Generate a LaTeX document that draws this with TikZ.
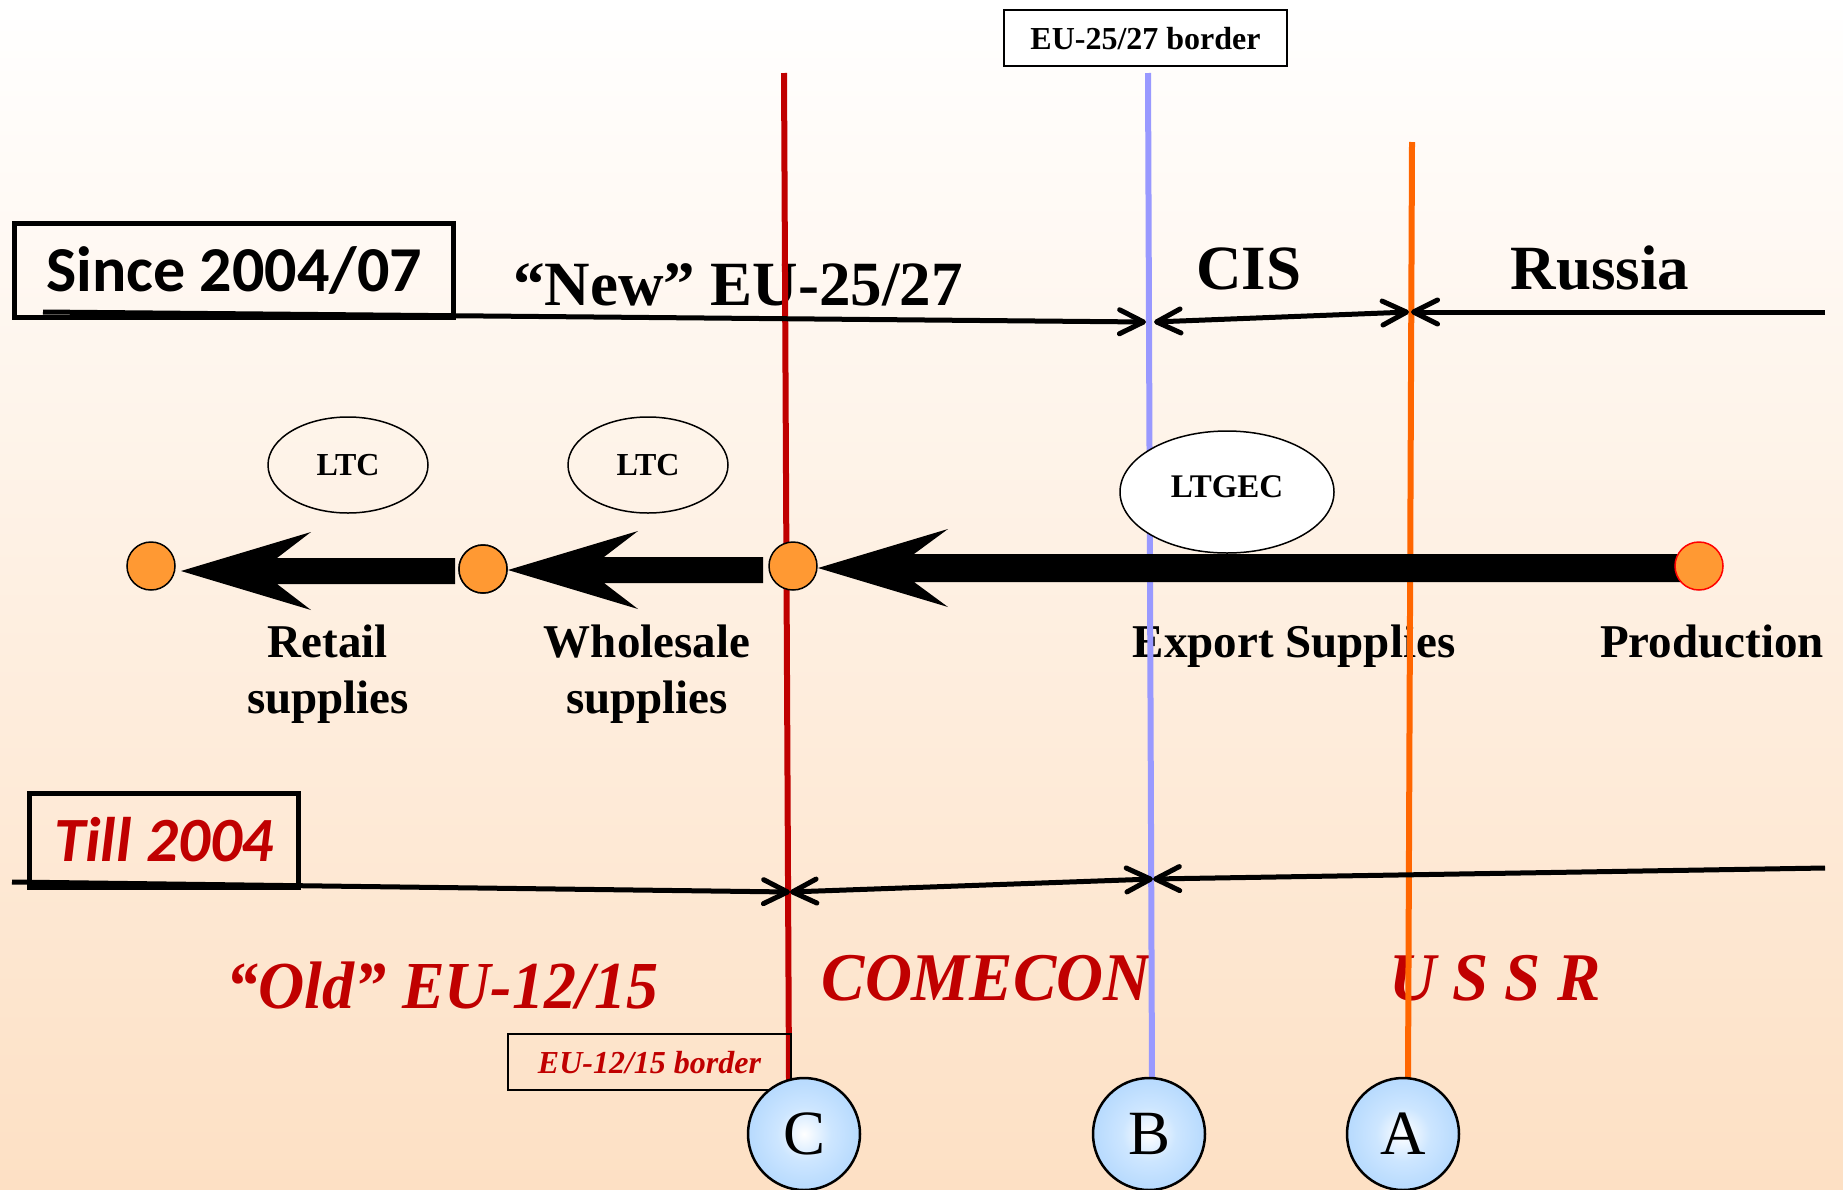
\documentclass[tikz,border=0pt]{standalone}
\usepackage{fontspec}
\setmainfont{Liberation Serif}
\newfontfamily\calfont{Carlito}
\usetikzlibrary{shapes.geometric,arrows.meta,calc}

\definecolor{bgbot}{RGB}{253,224,196}
\definecolor{lineC}{RGB}{192,0,0}
\definecolor{lineB}{RGB}{153,153,255}
\definecolor{lineA}{RGB}{255,102,0}
\definecolor{dotfill}{RGB}{255,153,51}
\definecolor{labelred}{RGB}{192,0,0}
\definecolor{ballblue}{RGB}{140,195,252}
\definecolor{ballmid}{RGB}{205,230,255}
\pgfdeclareradialshading{ballshade}{\pgfpoint{0bp}{0bp}}{color(0bp)=(white); color(12bp)=(ballmid); color(50bp)=(ballblue)}

\newcommand\fs[1]{\fontsize{#1}{#1}\selectfont}
% thick flow arrow: #1 tip, #2 tail (same height), #3 half shaft width
\newcommand\fatarrow[3]{%
  \fill (#1) -- ++(130,-39) -- ++(-34,39-#3) -- ($(#2)+(0,-#3)$)
    -- ($(#2)+(0,#3)$) -- ($(#1)+(96,#3)$) -- ++(34,39-#3) -- cycle;}
\newcommand\tall[1]{\scalebox{1}[1.05]{#1}}

\begin{document}
\begin{tikzpicture}[x=1pt,y=-1pt,
  every node/.style={inner sep=0pt, outer sep=0pt},
  divider/.style={line width=6pt},
  period/.style={line width=5pt},
  tipR/.style={-{Straight Barb[length=24pt,width=24pt,round]}},
  tipLR/.style={{Straight Barb[length=24pt,width=24pt,round]}-{Straight Barb[length=24pt,width=24pt,round]}},
  flowdot/.style={circle, draw, line width=1.5pt, fill=dotfill, minimum size=48pt},
  ltcell/.style={ellipse, draw, line width=1.5pt, font=\bfseries\fs{32}},
  stagelabel/.style={anchor=base, align=center, font=\bfseries\fontsize{47}{56}\selectfont},
  regionlabel/.style={anchor=base, font=\bfseries\fs{63}},
  oldregion/.style={anchor=base, font=\bfseries\itshape\fs{64}, text=labelred},
  periodbox/.style={draw, line width=5pt, text height=41pt, text depth=0pt},
  bordertag/.style={draw, line width=2pt, minimum width=283pt, minimum height=56pt, text height=22pt, text depth=0pt},
  pointmark/.style={circle, draw, line width=2.5pt, minimum size=112pt, shade, shading=ballshade, font=\fs{63}}
]
% background
\useasboundingbox (0,0) rectangle (1843,1189);
\shade[top color=white, bottom color=bgbot] (0,0) rectangle (1843,1189);

% region and stage labels
\node[regionlabel] (neweu) at (738,305) {“New” EU-25/27};
\node[regionlabel] (cis) at (1249,289) {CIS};
\node[regionlabel] (russia) at (1600,289) {Russia};
\node[stagelabel] (retail) at (328,713) {Retail\\supplies};
\node[stagelabel] (wholesale) at (647,713) {Wholesale\\supplies};
\node[stagelabel] (export) at (1294,657) {Export Supplies};
\node[stagelabel] (production) at (1712,657) {Production};
\node[oldregion] (oldeu) at (442,1008) {\tall{“Old” EU-12/15}};
\node[oldregion, font=\bfseries\itshape\fs{65}] (comecon) at (986,1000) {\tall{COMECON}};
\node[oldregion, font=\bfseries\itshape\fs{65}] (ussr) at (1495,1000) {\tall{U S S R}};

% border lines
\coordinate (Ctop) at (784,73);  \coordinate (Cbot) at (789,1080);
\coordinate (Btop) at (1148,73); \coordinate (Bbot) at (1152,1080);
\coordinate (Atop) at (1412,142);\coordinate (Abot) at (1408,1080);
\draw[divider, lineC] (Ctop) -- (Cbot);
\draw[divider, lineB] (Btop) -- (Bbot);
\draw[divider, lineA] (Atop) -- (Abot);

% period boxes
\node[periodbox, minimum width=439pt, minimum height=94pt, font=\calfont\bfseries\fs{64}] (since) at (234,270.5) {Since 2004/07};
\node[periodbox, minimum width=269pt, minimum height=94pt, font=\calfont\bfseries\itshape\fs{63}, text=labelred] (till) at (164,840.5) {Till 2004};

% since 2004/07 spans
\coordinate (n0) at (43,312);   \coordinate (nB) at (1146,322);
\coordinate (cB) at (1154,322); \coordinate (cA) at (1409,312);
\coordinate (rA) at (1411,312); \coordinate (r9) at (1825,312);
\draw[period, tipR] (n0) -- (nB);
\draw[period, tipLR] (cB) -- (cA);
\draw[period, tipR] (r9) -- (rA);

% till 2004 spans
\coordinate (o0) at (12,882);   \coordinate (oC) at (790,892);
\coordinate (oB) at (1153,879); \coordinate (o9) at (1825,868);
\draw[period, tipR] (o0) -- (oC);
\draw[period, tipLR] (oC) -- (oB);
\draw[period, tipR] (o9) -- (oB);

% supply chain
\node[flowdot] (Rdot) at (151,566) {};
\node[flowdot] (Wdot) at (483,569) {};
\coordinate (tip1) at ($(Rdot.east)+(6,5)$);
\coordinate (tail1) at ($(Wdot.west)+(-4,2)$);
\coordinate (tip2) at ($(Wdot.east)+(1,1)$);
\coordinate (tip3) at (818,568);
\coordinate (tail2) at (763,570);
\coordinate (tail3) at (1699,568);
\fatarrow{tip1}{tail1}{13}
\fatarrow{tip2}{tail2}{13}
\fatarrow{tip3}{tail3}{14}
\node[flowdot] (Wdot) at (483,569) {};
\node[flowdot] (Cdot) at (793,566) {};
\node[flowdot, draw=red] (Pdot) at (1699,566) {};

% contracts
\node[ltcell, minimum width=160pt, minimum height=96pt] (ltc1) at (348,465) {LTC};
\node[ltcell, minimum width=160pt, minimum height=96pt] (ltc2) at (648,465) {LTC};
\node[ltcell, font=\bfseries\fs{33}, fill=white, minimum width=214pt, minimum height=122pt, text height=22pt, text depth=11pt] (ltgec) at (1227,492) {LTGEC};

% border tags and markers
\node[bordertag, fill=white, font=\bfseries\fs{32}] (tag2527) at (1145.5,38) {EU-25/27 border};
\node[bordertag, font=\bfseries\itshape\fs{32}, text=labelred] (tag1215) at (649.5,1062) {EU-12/15 border};
\node[pointmark] (C) at (804,1134) {C};
\node[pointmark] (B) at (1149,1134) {B};
\node[pointmark] (A) at (1403,1134) {A};
\end{tikzpicture}
\end{document}
